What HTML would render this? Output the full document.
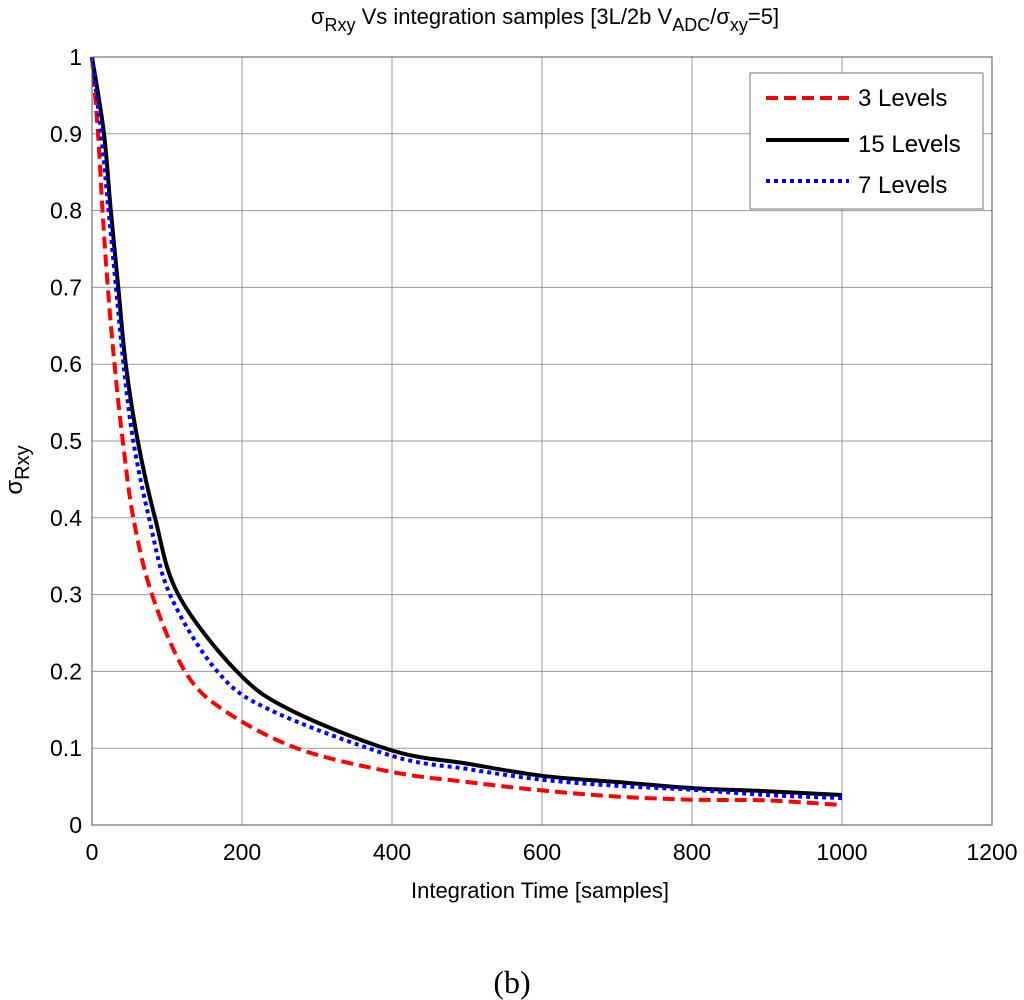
<!DOCTYPE html>
<html><head><meta charset="utf-8"><style>
body{margin:0;background:#fff;}
svg{display:block;font-family:"Liberation Sans",sans-serif;}
</style></head><body>
<svg id="chart" width="1024" height="1000">
<g id="grid"></g>
<g id="series"></g>
<rect x="92" y="57" width="900" height="768" fill="none" stroke="#555" stroke-width="1"/>
<g id="ticks"></g>
<text x="545" y="24" text-anchor="middle" font-size="22">σ<tspan font-size="18" dy="7">Rxy</tspan><tspan dy="-7"> Vs integration samples [3L/2b V</tspan><tspan font-size="18" dy="7">ADC</tspan><tspan dy="-7">/σ</tspan><tspan font-size="18" dy="7">xy</tspan><tspan dy="-7">=5]</tspan></text>
<text transform="translate(22,470) rotate(-90)" text-anchor="middle" font-size="24">σ<tspan font-size="20" dy="7">Rxy</tspan></text>
<text x="540" y="898" text-anchor="middle" font-size="22">Integration Time [samples]</text>
<text x="512" y="993" text-anchor="middle" font-size="32" font-family="Liberation Serif, serif">(b)</text>
<g>
<rect x="750" y="73" width="233" height="136" fill="#fff" stroke="#777"/>
<line x1="766" y1="98" x2="849" y2="98" stroke="#f00" stroke-width="4" stroke-dasharray="12,6"/>
<text x="858" y="106" font-size="24">3 Levels</text>
<line x1="766" y1="140" x2="849" y2="140" stroke="#000" stroke-width="4"/>
<text x="858" y="152" font-size="24">15 Levels</text>
<line x1="766" y1="181" x2="849" y2="181" stroke="#00f" stroke-width="4" stroke-dasharray="4,4"/>
<text x="858" y="193" font-size="24">7 Levels</text>
</g>
</svg>
<script>
const xTicks=[0,200,400,600,800,1000,1200];
const yTicks=[0,0.1,0.2,0.3,0.4,0.5,0.6,0.7,0.8,0.9,1];
const yTickLabels=["0","0.1","0.2","0.3","0.4","0.5","0.6","0.7","0.8","0.9","1"];
const x15=[0,16,25,35,45,61,84,115,193,264,400,500,600,700,800,900,1000];
const y15=[1,0.9,0.8,0.7,0.6,0.5,0.4,0.3,0.2,0.15,0.097,0.080,0.064,0.056,0.048,0.044,0.039];
const x7=[0,12,22,32,42,55,76,104,167,237,400,500,600,700,800,900,1000];
const y7=[1,0.9,0.8,0.7,0.6,0.5,0.4,0.3,0.2,0.15,0.090,0.073,0.059,0.051,0.046,0.039,0.035];
const x3=[0,8,14,21,30,41,55,80,124,175,273,400,500,600,700,800,900,1000];
const y3=[1,0.9,0.8,0.7,0.6,0.5,0.4,0.3,0.2,0.15,0.1,0.069,0.056,0.045,0.037,0.033,0.032,0.026];
const X0=92,X1=992,Y0=825,Y1=57;
function sx(v){return X0+(v/1200)*(X1-X0);}
function sy(v){return Y0-v*(Y0-Y1);}
const NS="http://www.w3.org/2000/svg";
const grid=document.getElementById('grid'),ticks=document.getElementById('ticks'),ser=document.getElementById('series');
function mk(tag,attrs,parent){const e=document.createElementNS(NS,tag);for(const k in attrs)e.setAttribute(k,attrs[k]);parent.appendChild(e);return e;}
xTicks.forEach((t,i)=>{
 const g=mk('line',{x1:sx(t),x2:sx(t),y1:Y1,y2:Y0,stroke:'#999','stroke-width':1},grid);
 
 
 const l=mk('text',{x:sx(t),y:Y0+35,'text-anchor':'middle','font-size':23},ticks);
 l.textContent=String(t);
 
 
});
yTicks.forEach((t,i)=>{
 const g=mk('line',{x1:X0,x2:X1,y1:sy(t),y2:sy(t),stroke:'#999','stroke-width':1},grid);
 
 
 const l=mk('text',{x:X0-10,y:sy(t)+8,'text-anchor':'end','font-size':23},ticks);
 l.textContent=yTickLabels[i];
 
 
});
function path(xs,ys){
 const p=xs.map((x,i)=>[sx(x),sy(ys[i])]);
 let d='M'+p[0][0].toFixed(1)+','+p[0][1].toFixed(1);
 for(let i=0;i<p.length-1;i++){
  const p0=p[i-1]||p[i],p1=p[i],p2=p[i+1],p3=p[i+2]||p2;
  const c1=[p1[0]+(p2[0]-p0[0])/6,p1[1]+(p2[1]-p0[1])/6];
  const c2=[p2[0]-(p3[0]-p1[0])/6,p2[1]-(p3[1]-p1[1])/6];
  d+=' C'+c1.map(v=>v.toFixed(1)).join(',')+' '+c2.map(v=>v.toFixed(1)).join(',')+' '+p2.map(v=>v.toFixed(1)).join(',');
 }
 return d;
}
const p3=mk('path',{d:path(x3,y3),fill:'none',stroke:'#f00','stroke-width':4,'stroke-dasharray':'12,6'},ser);


const p15=mk('path',{d:path(x15,y15),fill:'none',stroke:'#000','stroke-width':4},ser);


const p7=mk('path',{d:path(x7,y7),fill:'none',stroke:'#00f','stroke-width':4,'stroke-dasharray':'4,4'},ser);


</script>
</body></html>
